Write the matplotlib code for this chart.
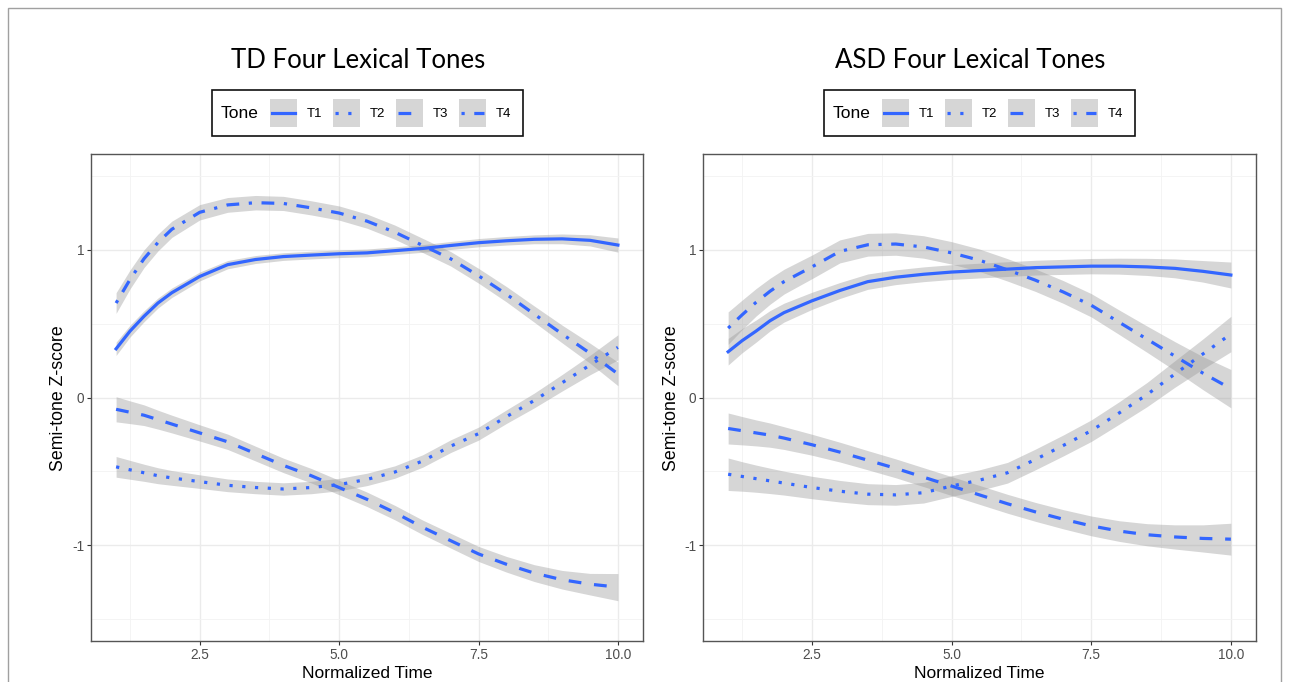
import matplotlib
matplotlib.use("Agg")
import matplotlib.pyplot as plt
import numpy as np
from matplotlib.patches import Rectangle
from matplotlib.lines import Line2D

plt.rcParams['font.family'] = ['Liberation Sans', 'DejaVu Sans']
plt.rcParams['axes.unicode_minus'] = False

# normalized time points the curves were read at
time = [1, 1.25, 1.5, 1.75, 2, 2.5, 3, 3.5, 4, 4.5, 5, 5.5, 6, 6.5, 7, 7.5, 8, 8.5, 9, 9.5, 10]

# TD group: fitted semi-tone z-scores and half width of the grey band
td_t1 = [0.33, 0.45, 0.55, 0.64, 0.71, 0.82, 0.90, 0.935, 0.955, 0.965, 0.974, 0.98, 0.995, 1.01, 1.03, 1.049, 1.062, 1.072, 1.075, 1.065, 1.033]
td_t2 = [-0.47, -0.49, -0.51, -0.53, -0.545, -0.57, -0.595, -0.61, -0.62, -0.61, -0.59, -0.555, -0.505, -0.43, -0.33, -0.245, -0.13, -0.02, 0.10, 0.22, 0.34]
td_t3 = [-0.08, -0.10, -0.12, -0.15, -0.18, -0.24, -0.30, -0.38, -0.46, -0.53, -0.61, -0.69, -0.78, -0.88, -0.97, -1.06, -1.13, -1.19, -1.235, -1.265, -1.285]
td_t4 = [0.64, 0.80, 0.94, 1.05, 1.14, 1.255, 1.305, 1.32, 1.315, 1.285, 1.25, 1.195, 1.12, 1.03, 0.94, 0.825, 0.70, 0.565, 0.43, 0.30, 0.16]
td_t1_se = [0.045, 0.04, 0.037, 0.034, 0.032, 0.03, 0.028, 0.027, 0.026, 0.026, 0.026, 0.026, 0.026, 0.026, 0.027, 0.028, 0.029, 0.03, 0.033, 0.038, 0.048]
td_t2_se = [0.07, 0.064, 0.058, 0.054, 0.05, 0.046, 0.043, 0.042, 0.042, 0.042, 0.042, 0.042, 0.042, 0.042, 0.043, 0.044, 0.046, 0.05, 0.056, 0.066, 0.085]
td_t3_se = [0.085, 0.077, 0.07, 0.064, 0.06, 0.055, 0.052, 0.05, 0.049, 0.049, 0.049, 0.049, 0.049, 0.049, 0.05, 0.051, 0.053, 0.057, 0.063, 0.073, 0.092]
td_t4_se = [0.07, 0.064, 0.06, 0.057, 0.055, 0.052, 0.05, 0.049, 0.048, 0.048, 0.048, 0.048, 0.048, 0.048, 0.049, 0.05, 0.052, 0.055, 0.06, 0.068, 0.08]

# ASD group
asd_t1 = [0.31, 0.385, 0.45, 0.52, 0.575, 0.655, 0.725, 0.785, 0.815, 0.835, 0.85, 0.86, 0.87, 0.88, 0.885, 0.89, 0.89, 0.885, 0.875, 0.855, 0.83]
asd_t2 = [-0.52, -0.535, -0.55, -0.565, -0.58, -0.61, -0.635, -0.655, -0.66, -0.645, -0.60, -0.56, -0.51, -0.42, -0.325, -0.225, -0.105, 0.02, 0.16, 0.295, 0.43]
asd_t3 = [-0.21, -0.225, -0.24, -0.255, -0.275, -0.32, -0.37, -0.425, -0.48, -0.54, -0.60, -0.66, -0.72, -0.775, -0.825, -0.87, -0.905, -0.93, -0.945, -0.955, -0.96]
asd_t4 = [0.47, 0.56, 0.645, 0.72, 0.785, 0.885, 0.99, 1.035, 1.04, 1.02, 0.98, 0.93, 0.865, 0.795, 0.715, 0.625, 0.51, 0.395, 0.28, 0.165, 0.06]
asd_t1_se = [0.09, 0.082, 0.075, 0.069, 0.064, 0.058, 0.054, 0.052, 0.05, 0.05, 0.05, 0.05, 0.05, 0.05, 0.051, 0.052, 0.054, 0.058, 0.064, 0.073, 0.088]
asd_t2_se = [0.11, 0.1, 0.092, 0.086, 0.081, 0.076, 0.073, 0.071, 0.07, 0.07, 0.07, 0.07, 0.07, 0.07, 0.071, 0.073, 0.076, 0.082, 0.09, 0.102, 0.12]
asd_t3_se = [0.105, 0.096, 0.088, 0.082, 0.077, 0.071, 0.067, 0.065, 0.064, 0.064, 0.064, 0.064, 0.064, 0.064, 0.065, 0.067, 0.07, 0.075, 0.082, 0.092, 0.108]
asd_t4_se = [0.11, 0.1, 0.093, 0.088, 0.084, 0.08, 0.078, 0.077, 0.076, 0.076, 0.076, 0.076, 0.076, 0.076, 0.077, 0.079, 0.083, 0.089, 0.098, 0.112, 0.13]

tones = ['T1', 'T2', 'T3', 'T4']
styles = ['-', (0, (1, 3)), (0, (4, 4)), (0, (1, 3, 4, 3))]
x_ticks = [2.5, 5.0, 7.5, 10.0]
y_ticks = [-1, 0, 1]

BLUE = '#3366FF'
W, H = 1295, 682


def fx(px):
    return px / W


def fy(py):
    return 1 - py / H


def panel(left, right, title, title_x, series, bands):
    ax = fig.add_axes([fx(left), fy(641), fx(right - left), (641 - 154) / H])
    for tone, ls, y, se in zip(tones, styles, series, bands):
        y = np.array(y)
        se = np.array(se)
        ax.fill_between(time, y - se, y + se, color='#999999', alpha=0.4, lw=0)
        ax.plot(time, y, color=BLUE, lw=2.3, linestyle=ls, label=tone)
    ax.set_xlim(0.55, 10.45)
    ax.set_ylim(-1.65, 1.65)
    ax.set_xticks(x_ticks)
    ax.set_xticklabels(['2.5', '5.0', '7.5', '10.0'])
    ax.set_yticks(y_ticks)
    ax.set_yticklabels(['-1', '0', '1'])
    ax.set_xticks([1.25, 3.75, 6.25, 8.75], minor=True)
    ax.set_yticks([-1.5, -0.5, 0.5, 1.5], minor=True)
    ax.grid(which='major', color='#EBEBEB', lw=1.0)
    ax.grid(which='minor', color='#F3F3F3', lw=0.6)
    ax.set_axisbelow(True)
    ax.tick_params(which='major', length=3, width=0.8, color='#333333',
                   labelsize=9.8, labelcolor='#4D4D4D', pad=2)
    ax.tick_params(which='minor', length=0)
    for s in ax.spines.values():
        s.set_color('#555555')
        s.set_linewidth(1.0)
    mid = (left + right) / 2
    fig.text(fx(title_x), fy(61), title, ha='center', va='center',
             fontsize=18.5, family=['Lato', 'DejaVu Sans'])
    fig.text(fx(left - 32), fy(398), 'Semi-tone Z-score', rotation=90,
             ha='center', va='center', fontsize=12.8)
    fig.text(fx(mid), fy(678), 'Normalized Time', ha='center', va='baseline', fontsize=12.5)
    draw_legend(left + 121)
    return ax


def draw_legend(box_left):
    fig.add_artist(Rectangle((fx(box_left), fy(136)), fx(311), (136 - 90) / H,
                             transform=fig.transFigure, fill=False,
                             edgecolor='#111111', lw=1.2))
    fig.text(fx(box_left + 9), fy(114), 'Tone', ha='left', va='center', fontsize=12.5)
    for i, (tone, ls) in enumerate(zip(tones, styles)):
        k = box_left + 58 + i * 63
        fig.add_artist(Rectangle((fx(k), fy(127)), fx(27), (127 - 99) / H,
                                 transform=fig.transFigure, facecolor='#D6D6D6',
                                 edgecolor='none'))
        fig.add_artist(Line2D([fx(k + 2), fx(k + 25)], [fy(113), fy(113)],
                              transform=fig.transFigure, color=BLUE, lw=2.3,
                              linestyle=ls))
        fig.text(fx(k + 37), fy(114), tone, ha='left', va='center', fontsize=9.5)


fig = plt.figure(figsize=(W / 100, H / 100), dpi=100)
fig.patch.set_facecolor('white')

# light frame around the whole picture
fig.add_artist(Rectangle((fx(8), fy(700)), fx(1273), (700 - 8) / H,
                         transform=fig.transFigure, fill=False,
                         edgecolor='#A0A0A0', lw=1.0))

panel(91, 643, 'TD Four Lexical Tones', 358,
      [td_t1, td_t2, td_t3, td_t4], [td_t1_se, td_t2_se, td_t3_se, td_t4_se])
panel(703, 1256, 'ASD Four Lexical Tones', 970,
      [asd_t1, asd_t2, asd_t3, asd_t4], [asd_t1_se, asd_t2_se, asd_t3_se, asd_t4_se])

fig.savefig('out.png', dpi=100)
